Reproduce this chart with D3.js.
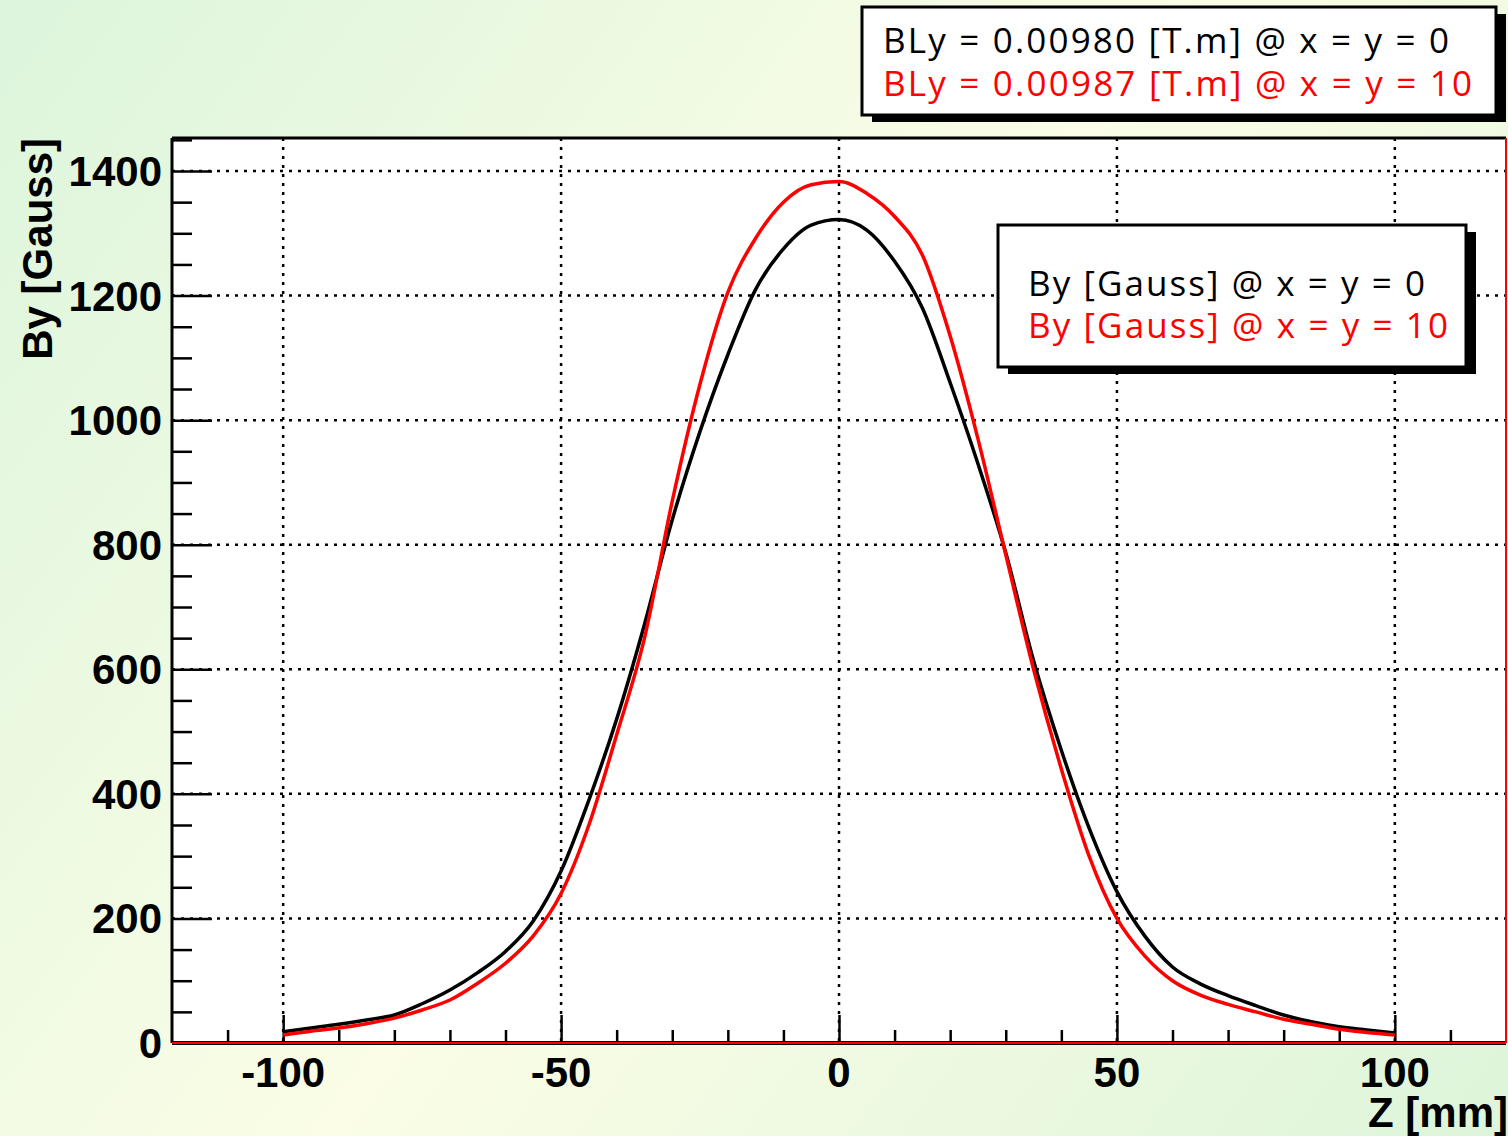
<!DOCTYPE html>
<html>
  <head>
    <meta charset="utf-8">
    <title>By vs Z</title>
    <script src="https://cdn.jsdelivr.net/npm/d3@7"></script>
    <style>
      body { margin: 0; }
      svg { display: block; }
      .tick-label { font-family: "Liberation Sans", Arial, sans-serif; font-weight: bold; font-size: 42px; }
      .leg { font-family: "Open Sans", "Noto Sans", sans-serif; font-size: 35px; }
    </style>
  </head>
  <body>
    <script>
      // z positions along the magnet [mm]
      var zValues = [-100, -95, -90, -85, -80, -75, -70, -65, -60, -55, -50, -45, -40, -35, -30, -25, -20, -15, -10, -5,
        0, 5, 10, 15, 20, 25, 30, 35, 40, 45, 50, 55, 60, 65, 70, 75, 80, 85, 90, 95, 100];

      // By [Gauss] at x = y = 0
      var byCenter = [18, 24, 30, 37, 45, 63, 85, 113, 147, 196, 276, 390, 520, 672, 840, 982, 1105, 1210, 1275, 1313,
        1322, 1305, 1255, 1180, 1060, 930, 787, 614, 470, 345, 243, 172, 122, 95, 76, 60, 45, 34, 26, 21, 16];

      // By [Gauss] at x = y = 10
      var byOffset = [13, 19, 24, 31, 40, 53, 69, 96, 128, 172, 240, 350, 495, 650, 870, 1058, 1205, 1292, 1350, 1378,
        1383, 1364, 1327, 1265, 1135, 970, 784, 600, 440, 300, 200, 140, 100, 77, 62, 50, 38, 30, 22, 17, 13];

      var xMajor = [-100, -50, 0, 50, 100];
      var yMajor = [0, 200, 400, 600, 800, 1000, 1200, 1400];

      var topLegend = ["BLy = 0.00980 [T.m] @ x = y = 0", "BLy = 0.00987 [T.m] @ x = y = 10"];
      var topLegendWidth = [566, 589];
      var curveLegend = ["By [Gauss] @ x = y = 0", "By [Gauss] @ x = y = 10"];
      var curveLegendWidth = [397, 420];
      var colors = ["#000000", "#ff0000"];

      var W = 1508, H = 1136;
      var pLeft = 172, pRight = 1506, pTop = 138, pBottom = 1043;

      var svg = d3.select("body").append("svg")
        .attr("width", W)
        .attr("height", H);

      var grad = svg.append("defs").append("linearGradient")
        .attr("id", "bg")
        .attr("gradientUnits", "userSpaceOnUse")
        .attr("x1", 0).attr("y1", 0)
        .attr("x2", W).attr("y2", H);
      grad.append("stop").attr("offset", "0").attr("stop-color", "#dcf5dc");
      grad.append("stop").attr("offset", "0.5").attr("stop-color", "#fbfde6");
      grad.append("stop").attr("offset", "1").attr("stop-color", "#ddf5da");

      svg.append("rect")
        .attr("width", W)
        .attr("height", H)
        .attr("fill", "url(#bg)");

      var x = d3.scaleLinear().domain([-120, 120]).range([pLeft, pRight]);
      var y = d3.scaleLinear().domain([0, 1453]).range([pBottom, pTop]);

      svg.append("rect")
        .attr("x", pLeft).attr("y", pTop)
        .attr("width", pRight - pLeft).attr("height", pBottom - pTop)
        .attr("fill", "white");

      // dotted grid
      svg.append("g").selectAll("line")
        .data(xMajor)
        .enter()
        .append("line")
        .attr("x1", function (d) { return x(d); })
        .attr("x2", function (d) { return x(d); })
        .attr("y1", pTop).attr("y2", pBottom)
        .attr("stroke", "black")
        .attr("stroke-width", 2.5)
        .attr("stroke-dasharray", "3,6");

      svg.append("g").selectAll("line")
        .data(yMajor.slice(1))
        .enter()
        .append("line")
        .attr("y1", function (d) { return y(d); })
        .attr("y2", function (d) { return y(d); })
        .attr("x1", pLeft).attr("x2", pRight)
        .attr("stroke", "black")
        .attr("stroke-width", 2.5)
        .attr("stroke-dasharray", "3,6");

      // y axis: major ticks 40px, minor ticks 20px
      var yAxis = d3.axisRight(y)
        .tickValues(d3.range(0, 1451, 50))
        .tickSize(20)
        .tickFormat("");
      var gy = svg.append("g").attr("transform", "translate(" + pLeft + ",0)").call(yAxis);
      gy.selectAll(".tick line")
        .attr("x2", function (d) { return d % 200 === 0 ? 40 : 20; })
        .attr("stroke-width", 2.5);
      gy.select(".domain").remove();

      svg.append("g").selectAll("text")
        .data(yMajor)
        .enter()
        .append("text")
        .attr("class", "tick-label")
        .attr("x", 162)
        .attr("y", function (d) { return y(d) + 15; })
        .attr("text-anchor", "end")
        .text(function (d) { return d; });

      // x axis: major 28px, minor 13px
      var xAxis = d3.axisTop(x)
        .tickValues(d3.range(-110, 111, 10))
        .tickSize(13)
        .tickFormat("");
      var gx = svg.append("g").attr("transform", "translate(0," + pBottom + ")").call(xAxis);
      gx.selectAll(".tick line")
        .attr("y2", function (d) { return d % 50 === 0 ? -28 : -13; })
        .attr("stroke-width", 2.5);
      gx.select(".domain").remove();

      svg.append("g").selectAll("text")
        .data(xMajor)
        .enter()
        .append("text")
        .attr("class", "tick-label")
        .attr("x", function (d) { return x(d); })
        .attr("y", 1087)
        .attr("text-anchor", "middle")
        .text(function (d) { return d; });

      // curves
      var series = [byCenter, byOffset];
      var line = d3.line()
        .x(function (d, i) { return x(zValues[i]); })
        .y(function (d) { return y(d); })
        .curve(d3.curveMonotoneX);

      svg.append("g").selectAll("path")
        .data(series)
        .enter()
        .append("path")
        .attr("d", line)
        .attr("fill", "none")
        .attr("stroke", function (d, i) { return colors[i]; })
        .attr("stroke-width", 3.5)
        .attr("stroke-linejoin", "round");

      // frame: black left/top, red right/bottom
      svg.append("line").attr("x1", pLeft).attr("x2", pLeft).attr("y1", pTop).attr("y2", pBottom)
        .attr("stroke", "black").attr("stroke-width", 3);
      svg.append("line").attr("x1", pLeft).attr("x2", pRight).attr("y1", pTop).attr("y2", pTop)
        .attr("stroke", "black").attr("stroke-width", 3);
      svg.append("line").attr("x1", pLeft).attr("x2", pRight).attr("y1", pBottom).attr("y2", pBottom)
        .attr("stroke", "black").attr("stroke-width", 4);
      svg.append("line").attr("x1", pLeft).attr("x2", pRight).attr("y1", pBottom).attr("y2", pBottom)
        .attr("stroke", "red").attr("stroke-width", 2);
      svg.append("line").attr("x1", pRight).attr("x2", pRight).attr("y1", pTop).attr("y2", pBottom)
        .attr("stroke", "red").attr("stroke-width", 2);

      // axis titles
      svg.append("text")
        .attr("class", "tick-label")
        .attr("transform", "translate(52,138) rotate(-90)")
        .attr("text-anchor", "end")
        .text("By [Gauss]");

      svg.append("text")
        .attr("class", "tick-label")
        .attr("x", 1508)
        .attr("y", 1127)
        .attr("text-anchor", "end")
        .text("Z [mm]");

      // boxed legends with shadow
      function legendBox(bx, by, bw, bh, lines, widths, tx, ty, dy) {
        svg.append("rect")
          .attr("x", bx + 10).attr("y", by + 7)
          .attr("width", bw).attr("height", bh)
          .attr("fill", "black");
        svg.append("rect")
          .attr("x", bx).attr("y", by)
          .attr("width", bw).attr("height", bh)
          .attr("fill", "white")
          .attr("stroke", "black")
          .attr("stroke-width", 3);
        svg.append("g").selectAll("text")
          .data(lines)
          .enter()
          .append("text")
          .attr("class", "leg")
          .attr("x", tx)
          .attr("y", function (d, i) { return ty + i * dy; })
          .attr("textLength", function (d, i) { return widths[i]; })
          .attr("lengthAdjust", "spacing")
          .attr("fill", function (d, i) { return colors[i]; })
          .text(function (d) { return d; });
      }

      legendBox(862, 7, 634, 108, topLegend, topLegendWidth, 883, 53, 43);
      legendBox(998, 225, 468, 142, curveLegend, curveLegendWidth, 1028, 296, 42);
    </script>
  </body>
</html>
